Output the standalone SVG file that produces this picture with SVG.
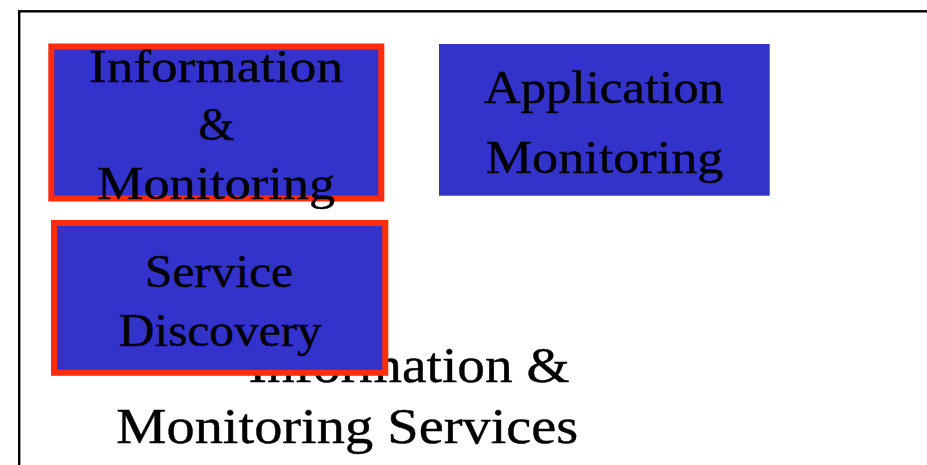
<svg xmlns="http://www.w3.org/2000/svg" width="927" height="465" viewBox="0 0 927 465">
<style>
.t{font-family:"Liberation Serif","Times New Roman",serif;font-size:46px;fill:#000;stroke:#000;stroke-width:0.4;text-anchor:middle}
.b{font-size:50px}
.box{fill:#3333CC}
.hl{fill:#3333CC;stroke:#FF2D0D;stroke-width:6}
</style>
<rect width="927" height="465" fill="#fff"/>
<g id="container">
<rect x="19.2" y="11.3" width="940" height="480" fill="none" stroke="#000" stroke-width="2.4"/>
</g>
<g id="node-info-monitoring">
<rect class="hl" x="51.3" y="46.5" width="330" height="152"/>
<text class="t" x="216" y="81.5" textLength="254" lengthAdjust="spacingAndGlyphs">Information</text>
<text class="t" x="216.5" y="139.5">&amp;</text>
<text class="t" x="216" y="199.3" textLength="238" lengthAdjust="spacingAndGlyphs">Monitoring</text>
</g>
<g id="node-app-monitoring">
<rect class="box" x="439" y="44" width="330.7" height="151.7"/>
<text class="t" x="604" y="103" textLength="240" lengthAdjust="spacingAndGlyphs">Application</text>
<text class="t" x="604.5" y="173.3" textLength="237.6" lengthAdjust="spacingAndGlyphs">Monitoring</text>
</g>
<g id="label-services">
<text class="t b" x="409" y="381.7" textLength="321" lengthAdjust="spacingAndGlyphs">Information &amp;</text>
<text class="t b" x="347.3" y="443.3" textLength="462" lengthAdjust="spacingAndGlyphs">Monitoring Services</text>
</g>
<g id="node-service-discovery">
<rect class="hl" x="54" y="223" width="331.3" height="149.8"/>
<text class="t" x="219" y="286.7" textLength="148" lengthAdjust="spacingAndGlyphs">Service</text>
<text class="t" x="220.3" y="346" textLength="203" lengthAdjust="spacingAndGlyphs">Discovery</text>
</g>
<g id="connectors"/>
</svg>
